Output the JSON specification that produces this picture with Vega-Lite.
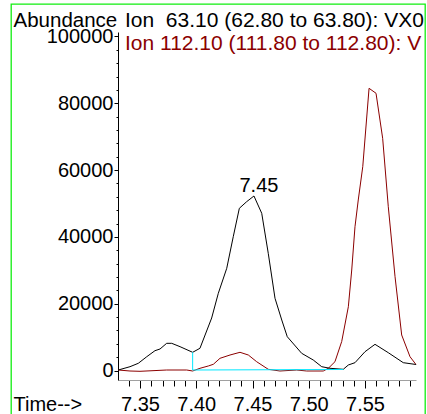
{
  "$schema": "https://vega.github.io/schema/vega-lite/v6.json",
  "autosize": {"type": "none"},
  "padding": {"left": 11, "top": 4, "right": 2, "bottom": -5},
  "width": 414,
  "height": 415,
  "background": "white",
  "config": {
    "view": {"stroke": "#11ee11", "strokeWidth": 1.3},
    "font": "Liberation Sans"
  },
  "title": {
    "text": "Ion\u00a0 63.10 (62.80 to 63.80): VX0",
    "subtitle": "Ion 112.10 (111.80 to 112.80): V",
    "anchor": "start",
    "frame": "group",
    "dx": 114,
    "offset": -50,
    "font": "Liberation Sans",
    "fontSize": 21,
    "fontWeight": "normal",
    "color": "black",
    "subtitleFont": "Liberation Sans",
    "subtitleFontSize": 21,
    "subtitleFontWeight": "normal",
    "subtitleColor": "#8b0000",
    "subtitlePadding": 2.5
  },
  "datasets": {
    "ion63": [
      {"t": 7.3307, "v": 150}, {"t": 7.3411, "v": 1140}, {"t": 7.3485, "v": 2160},
      {"t": 7.3560, "v": 4130}, {"t": 7.3633, "v": 5930}, {"t": 7.3678, "v": 6440},
      {"t": 7.3737, "v": 8140}, {"t": 7.3782, "v": 8140}, {"t": 7.3856, "v": 7130},
      {"t": 7.3968, "v": 5450}, {"t": 7.4033, "v": 6650}, {"t": 7.4137, "v": 15720},
      {"t": 7.4196, "v": 23110}, {"t": 7.4271, "v": 30600}, {"t": 7.4329, "v": 40060},
      {"t": 7.4383, "v": 48560}, {"t": 7.4448, "v": 50540}, {"t": 7.4513, "v": 52250},
      {"t": 7.4582, "v": 47070}, {"t": 7.4640, "v": 35090}, {"t": 7.4700, "v": 21620},
      {"t": 7.4760, "v": 15120}, {"t": 7.4809, "v": 10120}, {"t": 7.4937, "v": 5150},
      {"t": 7.5040, "v": 3140}, {"t": 7.5115, "v": 1140}, {"t": 7.5189, "v": 660},
      {"t": 7.5307, "v": 360}, {"t": 7.5352, "v": 1650}, {"t": 7.5411, "v": 2340},
      {"t": 7.5500, "v": 5630}, {"t": 7.5589, "v": 7840}, {"t": 7.5707, "v": 5330},
      {"t": 7.5840, "v": 2340}, {"t": 7.5953, "v": 1800}
    ],
    "ion112": [
      {"t": 7.3307, "v": 150}, {"t": 7.3411, "v": -150}, {"t": 7.3500, "v": -240},
      {"t": 7.3737, "v": 150}, {"t": 7.3915, "v": 150}, {"t": 7.3968, "v": -150},
      {"t": 7.4033, "v": 660}, {"t": 7.4107, "v": 1350}, {"t": 7.4152, "v": 1860},
      {"t": 7.4211, "v": 3650}, {"t": 7.4300, "v": 4640}, {"t": 7.4389, "v": 5450},
      {"t": 7.4463, "v": 4640}, {"t": 7.4537, "v": 2630}, {"t": 7.4640, "v": 360},
      {"t": 7.4744, "v": -150}, {"t": 7.4893, "v": 150}, {"t": 7.4982, "v": -150},
      {"t": 7.5129, "v": -150}, {"t": 7.5174, "v": 660}, {"t": 7.5233, "v": 2630},
      {"t": 7.5293, "v": 8680}, {"t": 7.5352, "v": 19100}, {"t": 7.5382, "v": 30090},
      {"t": 7.5411, "v": 43050}, {"t": 7.5440, "v": 51050}, {"t": 7.5480, "v": 61020},
      {"t": 7.5536, "v": 84490}, {"t": 7.5598, "v": 83000}, {"t": 7.5657, "v": 69520},
      {"t": 7.5707, "v": 49040}, {"t": 7.5767, "v": 28080}, {"t": 7.5826, "v": 10630},
      {"t": 7.5900, "v": 4130}, {"t": 7.5953, "v": 1800}
    ],
    "baseline": [
      {"t": 7.3968, "v": 5450, "i": 0},
      {"t": 7.3968, "v": 150, "i": 1},
      {"t": 7.5307, "v": 300, "i": 2}
    ],
    "peaks": [
      {"t": 7.4513, "v": 52250, "label": "7.45"}
    ]
  },
  "encoding": {
    "x": {
      "field": "t",
      "type": "quantitative",
      "scale": {"domain": [7.330444, 7.595333], "range": [107, 405], "nice": false, "zero": false},
      "axis": {
        "orient": "bottom",
        "offset": -39,
        "values": [7.34, 7.35, 7.36, 7.37, 7.38, 7.39, 7.40, 7.41, 7.42, 7.43, 7.44, 7.45, 7.46, 7.47, 7.48, 7.49, 7.50, 7.51, 7.52, 7.53, 7.54, 7.55, 7.56, 7.57, 7.58, 7.59],
        "labelExpr": "round(datum.value*100) % 5 === 0 ? format(datum.value, '.2f') : ''",
        "labelOverlap": false,
        "labelFlush": false,
        "labelFont": "Liberation Sans",
        "labelFontSize": 20,
        "labelColor": "black",
        "labelPadding": 6,
        "tickSize": {"condition": {"test": "round(datum.value*100) % 5 === 0", "value": 8}, "value": 6},
        "tickColor": "black",
        "domainColor": "#a0a0a0",
        "grid": false,
        "title": "Time-->",
        "titleX": 2,
        "titleY": 30,
        "titleAlign": "left",
        "titleBaseline": "alphabetic",
        "titleAngle": 0,
        "titleFont": "Liberation Sans",
        "titleFontSize": 20,
        "titleFontWeight": "normal",
        "titleColor": "black"
      }
    },
    "y": {
      "field": "v",
      "type": "quantitative",
      "scale": {"domain": [-2844, 101347], "range": [376, 28], "nice": false, "zero": false},
      "axis": {
        "orient": "left",
        "offset": -107,
        "values": [0, 4000, 8000, 12000, 16000, 20000, 24000, 28000, 32000, 36000, 40000, 44000, 48000, 52000, 56000, 60000, 64000, 68000, 72000, 76000, 80000, 84000, 88000, 92000, 96000, 100000],
        "labelExpr": "datum.value % 20000 === 0 ? format(datum.value, 'd') : ''",
        "labelOverlap": false,
        "labelFlush": false,
        "labelFont": "Liberation Sans",
        "labelFontSize": 20,
        "labelColor": "black",
        "labelPadding": 1,
        "tickSize": {"condition": {"test": "datum.value % 20000 === 0", "value": 4}, "value": 2},
        "tickColor": "black",
        "domainColor": "black",
        "grid": false,
        "title": "Abundance",
        "titleX": -105,
        "titleY": 22.5,
        "titleAlign": "left",
        "titleBaseline": "alphabetic",
        "titleAngle": 0,
        "titleFont": "Liberation Sans",
        "titleFontSize": 20.5,
        "titleFontWeight": "normal",
        "titleColor": "black"
      }
    }
  },
  "layer": [
    {
      "data": {"name": "ion112"},
      "mark": {"type": "line", "color": "#8b0000", "strokeWidth": 1}
    },
    {
      "data": {"name": "ion63"},
      "mark": {"type": "line", "color": "black", "strokeWidth": 1}
    },
    {
      "data": {"name": "baseline"},
      "mark": {"type": "line", "color": "#00e8ff", "strokeWidth": 1},
      "encoding": {"order": {"field": "i", "type": "quantitative"}}
    },
    {
      "data": {"name": "peaks"},
      "mark": {"type": "text", "font": "Liberation Sans", "fontSize": 20, "color": "black", "align": "center", "baseline": "alphabetic", "dx": 5, "dy": -4},
      "encoding": {"text": {"field": "label", "type": "nominal"}}
    }
  ]
}
